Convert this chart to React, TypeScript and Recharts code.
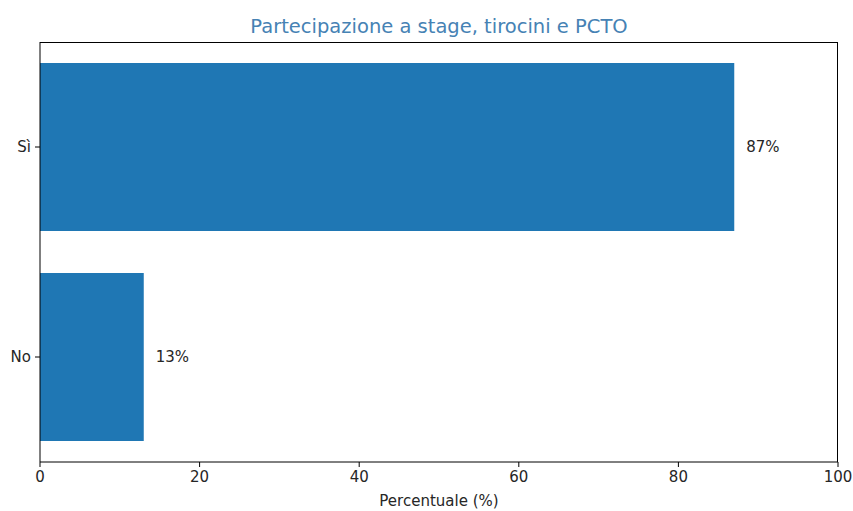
import React from 'react';
import { BarChart, Bar, XAxis, YAxis, LabelList } from 'recharts';

const categories = ['Sì', 'No'];
const percentages = [87, 13];
const xTicks = [0, 20, 40, 60, 80, 100];

const data = categories.map((name, i) => ({ name, value: percentages[i] }));

const FONT = '"DejaVu Sans", sans-serif';
const TEXT = '#262626';

// plot box in pixels (matches chart margins below)
const PLOT = { left: 40, top: 42, width: 798, height: 420 };

export default function App() {
  return (
    <div style={{ position: 'absolute', left: 0, top: 0, width: 853, height: 511, background: '#fff', fontFamily: FONT }}>
      <div
        style={{
          position: 'absolute',
          left: PLOT.left,
          width: PLOT.width,
          top: 14,
          textAlign: 'center',
          fontSize: 19.5,
          lineHeight: '26px',
          color: '#4682b4',
          whiteSpace: 'nowrap',
        }}
      >
        Partecipazione a stage, tirocini e PCTO
      </div>
      <BarChart
        width={853}
        height={511}
        data={data}
        layout="vertical"
        margin={{ top: PLOT.top, right: 15, bottom: 0, left: 0 }}
        barCategoryGap="10%"
      >
        <XAxis
          type="number"
          domain={[0, 100]}
          ticks={xTicks}
          height={49}
          tickSize={5}
          tickMargin={4}
          stroke="#000"
          tick={{ fill: TEXT, fontSize: 15, fontFamily: FONT }}
          label={{ value: 'Percentuale (%)', position: 'insideBottom', offset: 5, fill: TEXT, fontSize: 15, fontFamily: FONT }}
        />
        <YAxis
          type="category"
          dataKey="name"
          width={40}
          tickSize={5}
          tickMargin={4}
          stroke="#000"
          tick={{ fill: TEXT, fontSize: 15, fontFamily: FONT }}
        />
        <Bar dataKey="value" fill="#1f77b4" isAnimationActive={false}>
          <LabelList
            dataKey="value"
            position="right"
            offset={12}
            formatter={(v: any) => `${v}%`}
            style={{ fill: TEXT, fontSize: 15, fontFamily: FONT }}
          />
        </Bar>
      </BarChart>
      {/* top + right spines */}
      <div
        style={{
          position: 'absolute',
          left: PLOT.left,
          top: PLOT.top,
          width: PLOT.width,
          height: PLOT.height,
          borderTop: '1px solid #000',
          borderRight: '1px solid #000',
          boxSizing: 'border-box',
          pointerEvents: 'none',
        }}
      />
    </div>
  );
}
